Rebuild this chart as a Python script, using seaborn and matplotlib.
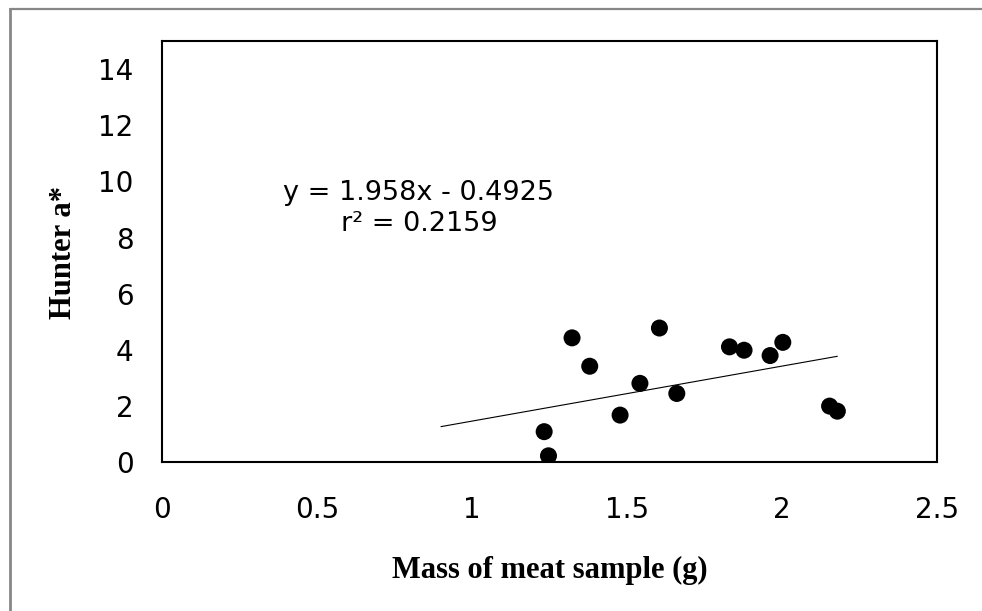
import numpy as np
import pandas as pd
import seaborn as sns
import matplotlib.pyplot as plt
from matplotlib.lines import Line2D

# values
mass = [1.233, 1.247, 1.323, 1.380, 1.478, 1.542, 1.605, 1.661,
        1.831, 1.878, 1.962, 2.003, 2.154, 2.179]
hunter_a = [1.09, 0.23, 4.43, 3.42, 1.68, 2.81, 4.78, 2.45,
            4.11, 3.99, 3.80, 4.27, 2.00, 1.82]

# trend line as printed on the chart
slope = 1.958
intercept = -0.4925
r2 = 0.2159
trend_x = [0.9, 2.179]

x_ticks = [0, 0.5, 1, 1.5, 2, 2.5]
x_tick_labels = ['0', '0.5', '1', '1.5', '2', '2.5']
y_ticks = [0, 2, 4, 6, 8, 10, 12, 14]

data = pd.DataFrame({'mass': mass, 'a': hunter_a})
trend = pd.DataFrame({'mass': trend_x})
trend['a'] = slope * trend['mass'] + intercept

sns.set_style('white')
plt.rcParams['font.family'] = ['DejaVu Sans']
plt.rcParams['text.color'] = 'black'
plt.rcParams['axes.labelcolor'] = 'black'

fig = plt.figure(figsize=(9.82, 6.11), dpi=100)
ax = fig.add_axes([0.165, 0.2434, 0.789, 0.6895])

sns.lineplot(data=trend, x='mass', y='a', ax=ax, color='black', linewidth=0.8)
sns.scatterplot(data=data, x='mass', y='a', ax=ax, color='black', s=150,
                edgecolor='none', zorder=3)

ax.set_xlim(0, 2.5)
ax.set_ylim(0, 15)
ax.set_xticks(x_ticks)
ax.set_xticklabels(x_tick_labels)
ax.set_yticks(y_ticks)
ax.tick_params(axis='both', direction='out', length=6.5, width=1.0,
               labelsize=20, color='black', labelcolor='black')
ax.tick_params(axis='x', pad=18)
ax.tick_params(axis='y', pad=14)
for sp in ax.spines.values():
    sp.set_visible(True)
    sp.set_color('black')
    sp.set_linewidth(1.5)

ax.set_xlabel('Mass of meat sample (g)', fontsize=22, fontweight='bold',
              family='Liberation Serif', color='black')
ax.set_ylabel('Hunter a*', fontsize=22, fontweight='bold',
              family='Liberation Serif', color='black')
ax.xaxis.set_label_coords(0.5, -0.223)
ax.yaxis.set_label_coords(-0.108, 0.498)

ax.text(0.829, 9.6, 'y = %.3fx - %.4f' % (slope, -intercept), fontsize=19.5,
        ha='center', va='center', color='black')
ax.text(0.829, 8.5, 'r² = %.4f' % r2, fontsize=19.5, ha='center', va='center',
        color='black')

# grey frame round the chart (top and left edges only show)
fig.add_artist(Line2D([9.5 / 982, 1], [1 - 9 / 611, 1 - 9 / 611],
                      transform=fig.transFigure, color='#878787', linewidth=1.6))
fig.add_artist(Line2D([9.5 / 982, 9.5 / 982], [0, 1 - 9 / 611],
                      transform=fig.transFigure, color='#878787', linewidth=2.0))

fig.savefig('out.png', dpi=100)
